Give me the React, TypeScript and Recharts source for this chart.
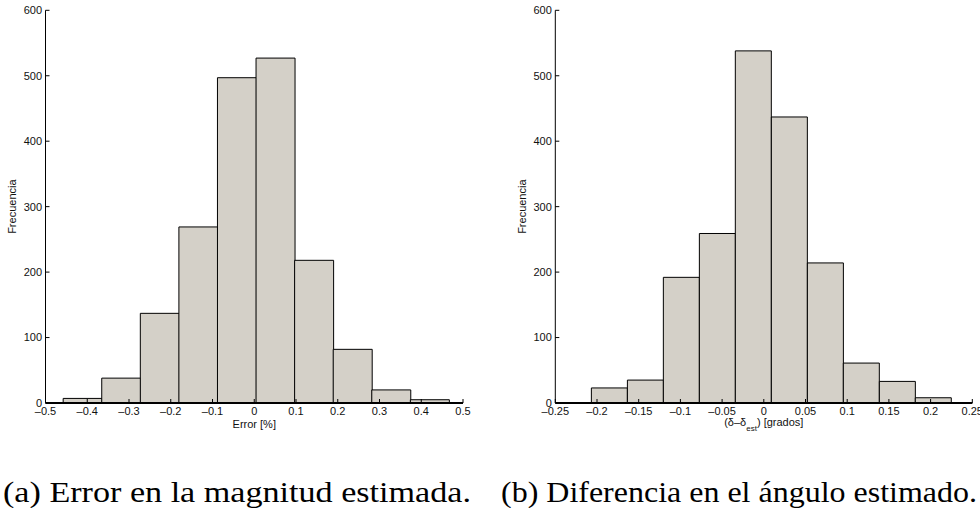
import React from 'react';
import { BarChart, Bar, XAxis, YAxis, ReferenceLine } from 'recharts';

// (a) magnitude error histogram
const magnitudeBins = [-0.4115, -0.3191, -0.2267, -0.1343, -0.0419, 0.0505, 0.1429, 0.2353, 0.3277, 0.4201];
const magnitudeCounts = [7, 38, 137, 269, 497, 527, 218, 82, 20, 5];
const magnitudeTicks = [-0.5, -0.4, -0.3, -0.2, -0.1, 0, 0.1, 0.2, 0.3, 0.4, 0.5];

// (b) angle difference histogram
const angleBins = [-0.1852, -0.142, -0.0989, -0.0557, -0.0126, 0.0306, 0.0738, 0.1169, 0.1601, 0.2032];
const angleCounts = [23, 35, 192, 259, 538, 437, 214, 61, 33, 8];
const angleTicks = [-0.25, -0.2, -0.15, -0.1, -0.05, 0, 0.05, 0.1, 0.15, 0.2, 0.25];

const countTicks = [0, 100, 200, 300, 400, 500, 600];

const SANS = '"Liberation Sans", Arial, Helvetica, sans-serif';
const tickStyle = { fontSize: 11, fontFamily: SANS, fill: '#111' };
const axisStroke = { stroke: '#000', strokeWidth: 1 };

const fmt = (v: number) => (v < 0 ? '\u2013' + String(-v) : String(v));

const YTitle = ({ viewBox }: any) => {
  const x = viewBox.x + viewBox.width - 29;
  const y = viewBox.y + viewBox.height / 2;
  return (
    <text x={x} y={y} transform={`rotate(-90 ${x} ${y})`} textAnchor="middle"
      fontSize={11} fontFamily={SANS} fill="#111">
      Frecuencia
    </text>
  );
};

const makeXTitle = (kind: 'error' | 'angle') => ({ viewBox }: any) => {
  const x = viewBox.x + viewBox.width / 2;
  if (kind === 'error') {
    return (
      <text x={x} y={viewBox.y + 25} textAnchor="middle" fontSize={11} fontFamily={SANS} fill="#111">
        Error [%]
      </text>
    );
  }
  return (
    <text x={x} y={viewBox.y + 22.5} textAnchor="middle" fontSize={11} fontFamily={SANS} fill="#111">
      <tspan>(δ–δ</tspan>
      <tspan dy={5} fontSize={8}>est</tspan>
      <tspan dy={-5}>) [grados]</tspan>
    </text>
  );
};

type HistProps = {
  bins: number[];
  counts: number[];
  ticks: number[];
  domain: [number, number];
  width: number;
  left: number;
  right: number;
  kind: 'error' | 'angle';
};

const Histogram = ({ bins, counts, ticks, domain, width, left, right, kind }: HistProps) => {
  const data = bins.map((c, i) => ({ center: c, count: counts[i] }));
  return (
    <BarChart width={width} height={440} data={data}
      margin={{ top: 10.3, right, bottom: 0, left: 0 }}
      barCategoryGap={0} barGap={0}>
      <XAxis type="number" dataKey="center" domain={domain} ticks={ticks} allowDataOverflow
        interval={0} height={37} tickSize={-4} tickMargin={8.5} tick={tickStyle}
        tickFormatter={fmt} axisLine={axisStroke} tickLine={axisStroke}
        label={{ content: makeXTitle(kind) }} />
      <XAxis xAxisId="top" orientation="top" type="number" dataKey="center" domain={domain}
        ticks={ticks} allowDataOverflow interval={0} height={0} tickSize={-4} tick={false}
        axisLine={axisStroke} tickLine={axisStroke} />
      <YAxis type="number" domain={[0, 600]} ticks={countTicks} allowDataOverflow interval={0}
        width={left} tickSize={-4} tickMargin={7.5} tick={tickStyle}
        axisLine={axisStroke} tickLine={axisStroke} label={{ content: YTitle }} />
      <YAxis yAxisId="right" orientation="right" type="number" domain={[0, 600]} ticks={countTicks}
        allowDataOverflow interval={0} width={0} tickSize={-4} tick={false}
        axisLine={axisStroke} tickLine={axisStroke} />
      <Bar dataKey="count" fill="#d4d0c8" stroke="#000" strokeWidth={1} isAnimationActive={false} />
      <ReferenceLine y={0} stroke="#000" strokeWidth={2} />
    </BarChart>
  );
};

const SERIF = '"Liberation Serif", "Times New Roman", Times, serif';

export default function App() {
  return (
    <div style={{ position: 'absolute', left: 0, top: 0, width: 980, height: 508, background: '#fff', overflow: 'hidden' }}>
      <div style={{ position: 'absolute', left: 0, top: 0 }}>
        <Histogram bins={magnitudeBins} counts={magnitudeCounts} ticks={magnitudeTicks}
          domain={[-0.5, 0.5]} width={480} left={45.5} right={17} kind="error" />
      </div>
      <div style={{ position: 'absolute', left: 490, top: 0 }}>
        <Histogram bins={angleBins} counts={angleCounts} ticks={angleTicks}
          domain={[-0.25, 0.25]} width={490} left={65.3} right={7.7} kind="angle" />
      </div>
      <svg style={{ position: 'absolute', left: 0, top: 0 }} width={980} height={508}>
        <text x={3} y={502} fontSize={29} fontFamily={SERIF} fill="#000"
          textLength={468} lengthAdjust="spacingAndGlyphs">
          (a) Error en la magnitud estimada.
        </text>
        <text x={501} y={502} fontSize={29} fontFamily={SERIF} fill="#000"
          textLength={476} lengthAdjust="spacingAndGlyphs">
          (b) Diferencia en el ángulo estimado.
        </text>
      </svg>
    </div>
  );
}
